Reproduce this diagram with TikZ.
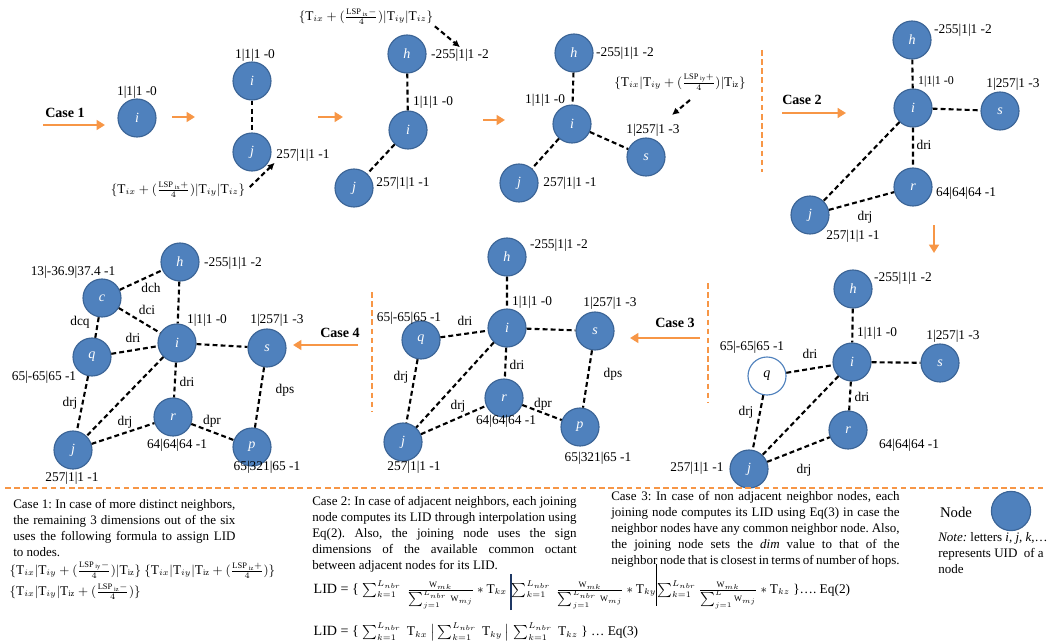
\documentclass[tikz,border=0pt]{standalone}
\usepackage{fontspec}
\setmainfont{Liberation Serif}
\usepackage{tikz}
\usetikzlibrary{arrows.meta,positioning}
\DeclareMathSizes{9.5}{9.5}{6}{4.5}
\frenchspacing

\definecolor{nodeblue}{HTML}{4F81BD}
\definecolor{nodeline}{HTML}{3B6496}
\definecolor{caseorange}{HTML}{F79646}
\definecolor{barblue}{HTML}{1F3864}

\begin{document}
\begin{tikzpicture}[x=0.025cm, y=-0.025cm, >=Latex,
  nd/.style={circle,fill=nodeblue,draw=nodeline,line width=0.8pt,minimum size=0.95cm,inner sep=0pt,text=white,font=\fontsize{10}{12}\selectfont\itshape},
  ndnew/.style={nd,fill=white,draw=nodeblue,text=black},
  lbl/.style={font=\fontsize{9.5}{11}\selectfont,inner sep=1pt},
  elbl/.style={lbl},
  casetxt/.style={font=\fontsize{10}{12}\selectfont\bfseries,inner sep=1pt},
  formula/.style={font=\fontsize{9.5}{11}\selectfont,inner sep=1pt},
  lnk/.style={line width=1.5pt,dash pattern=on 3.5pt off 2.2pt},
  hint/.style={lnk,-{Latex[length=5pt,width=5pt]}},
  nextarrow/.style={caseorange,line width=1.8pt,-{Triangle[length=6pt,width=7pt]}},
  divider/.style={caseorange,line width=1.4pt,dash pattern=on 4pt off 2.5pt},
  para/.style={font=\fontsize{9.25}{11.3}\selectfont,anchor=north west,inner sep=0pt,align=justify}]
\useasboundingbox (0,0) rectangle (1049,643);

% case 1, step by step
\node[casetxt] (case1) at (65,113) {Case 1};
\coordinate (c1a) at (43,125);
\coordinate (c1b) at (105,125);
\draw[nextarrow] (c1a) -- (c1b);

\node[nd] (i1) at (137,118) {i};
\node[lbl] (li1) at (137,92) {1|1|1 -0};
\coordinate (n1a) at (172,117);
\coordinate (n1b) at (195,117);
\draw[nextarrow] (n1a) -- (n1b);

\node[nd] (i2) at (252,81) {i};
\node[nd] (j2) at (252,152) {j};
\node[lbl] (li2) at (255,55) {1|1|1 -0};
\node[lbl] (lj2) at (303,155) {257|1|1 -1};
\draw[lnk] (i2) -- (j2);
\node[formula] (f1) at (178,190) {$\{\mathrm{T}_{ix}+(\frac{\mathrm{LSP}_{\,\mathrm{ix}}{+}}{4})|\mathrm{T}_{iy}|\mathrm{T}_{iz}\}$};
\draw[hint,shorten <=3pt] (f1.east) -- (lj2.south west);
\coordinate (n2a) at (318,117);
\coordinate (n2b) at (343,117);
\draw[nextarrow] (n2a) -- (n2b);

\node[nd] (h3) at (407,54) {h};
\node[nd] (i3) at (408,130) {i};
\node[nd] (j3) at (354,188) {j};
\node[lbl] (lh3) at (460,55) {-255|1|1 -2};
\node[lbl] (li3) at (433,102) {1|1|1 -0};
\node[lbl] (lj3) at (403,183) {257|1|1 -1};
\draw[lnk] (h3) -- (i3) (i3) -- (j3);
\node[formula] (f2) at (366,17) {$\{\mathrm{T}_{ix}+(\frac{\mathrm{LSP}_{\,\mathrm{ix}}{-}}{4})|\mathrm{T}_{iy}|\mathrm{T}_{iz}\}$};
\draw[hint] (f2.south east) -- (lh3.north);
\coordinate (n3a) at (483,120);
\coordinate (n3b) at (505,120);
\draw[nextarrow] (n3a) -- (n3b);

\node[nd] (h4) at (574,53) {h};
\node[nd] (i4) at (572,124) {i};
\node[nd] (s4) at (646,157) {s};
\node[nd] (j4) at (519,183) {j};
\node[lbl] (lh4) at (625,53) {-255|1|1 -2};
\node[lbl] (li4) at (545,100) {1|1|1 -0};
\node[lbl] (ls4) at (653,130) {1|257|1 -3};
\node[lbl] (lj4) at (570,183) {257|1|1 -1};
\draw[lnk] (h4) -- (i4) (i4) -- (s4) (i4) -- (j4);
\node[formula] (f3) at (680,82) {$\{\mathrm{T}_{ix}|\mathrm{T}_{iy}+(\frac{\mathrm{LSP}_{\,\mathrm{iy}}{+}}{4})|\mathrm{T}_{\mathrm{iz}}\}$};
\coordinate (f3a) at (690,100);
\coordinate (f3b) at (672,115);
\draw[hint] (f3a) -- (f3b);

% case 2
\coordinate (v1a) at (762,50);
\coordinate (v1b) at (762,172);
\draw[divider] (v1a) -- (v1b);
\node[casetxt] (case2) at (802,100) {Case 2};
\coordinate (c2a) at (782,113);
\coordinate (c2b) at (846,113);
\draw[nextarrow] (c2a) -- (c2b);

\node[nd] (h5) at (912,40) {h};
\node[nd] (i5) at (913,108) {i};
\node[nd] (s5) at (1000,111) {s};
\node[nd] (r5) at (913,187) {r};
\node[nd] (j5) at (810,215) {j};
\node[lbl] (lh5) at (963,30) {-255|1|1 -2};
\node[lbl,font=\fontsize{8.5}{10}\selectfont] (li5) at (936,82) {1|1|1 -0};
\node[lbl] (ls5) at (1013,84) {1|257|1 -3};
\node[lbl] (lr5) at (966,193) {64|64|64 -1};
\node[lbl] (lj5) at (853,236) {257|1|1 -1};
\draw[lnk] (h5) -- (i5) (i5) -- (s5) (i5) -- (r5) (i5) -- (j5) (j5) -- (r5);
\node[elbl] (dri5) at (924,145) {dri};
\node[elbl] (drj5) at (865,217) {drj};
\coordinate (c2c) at (934,225);
\coordinate (c2d) at (934,253);
\draw[nextarrow] (c2c) -- (c2d);

% case 3
\node[nd] (h6) at (853,289) {h};
\node[nd] (i6) at (852,362) {i};
\node[nd] (s6) at (940,363) {s};
\node[ndnew] (q6) at (767,376) {q};
\node[nd] (r6) at (848,430) {r};
\node[nd] (j6) at (749,469) {j};
\node[lbl] (lh6) at (903,278) {-255|1|1 -2};
\node[lbl] (li6) at (877,333) {1|1|1 -0};
\node[lbl] (ls6) at (953,336) {1|257|1 -3};
\node[lbl] (lq6) at (752,347) {65|-65|65 -1};
\node[lbl] (lr6) at (909,445) {64|64|64 -1};
\node[lbl] (lj6) at (697,468) {257|1|1 -1};
\draw[lnk] (h6) -- (i6) (i6) -- (s6) (q6) -- (i6) (i6) -- (r6) (i6) -- (j6) (q6) -- (j6) (j6) -- (r6);
\node[elbl] (dri6a) at (810,354) {dri};
\node[elbl] (dri6b) at (862,397) {dri};
\node[elbl] (drj6a) at (746,412) {drj};
\node[elbl] (drj6b) at (804,470) {drj};
\coordinate (v2a) at (708,283);
\coordinate (v2b) at (708,403);
\draw[divider] (v2a) -- (v2b);
\node[casetxt] (case3) at (675,323) {Case 3};
\coordinate (c3a) at (700,338);
\coordinate (c3b) at (630,338);
\draw[nextarrow] (c3a) -- (c3b);

\node[nd] (h7) at (507,257) {h};
\node[nd] (i7) at (507,328) {i};
\node[nd] (s7) at (595,331) {s};
\node[nd] (q7) at (421,340) {q};
\node[nd] (r7) at (504,398) {r};
\node[nd] (p7) at (580,427) {p};
\node[nd] (j7) at (403,442) {j};
\node[lbl] (lh7) at (559,245) {-255|1|1 -2};
\node[lbl] (li7) at (532,302) {1|1|1 -0};
\node[lbl] (ls7) at (610,303) {1|257|1 -3};
\node[lbl] (lq7) at (409,318) {65|-65|65 -1};
\node[lbl] (lr7) at (506,421) {64|64|64 -1};
\node[lbl] (lp7) at (598,458) {65|321|65 -1};
\node[lbl] (lj7) at (414,467) {257|1|1 -1};
\draw[lnk] (h7) -- (i7) (i7) -- (s7) (q7) -- (i7) (i7) -- (r7) (i7) -- (j7) (q7) -- (j7) (j7) -- (r7) (r7) -- (p7) (s7) -- (p7);
\node[elbl] (dri7a) at (465,321) {dri};
\node[elbl] (dri7b) at (517,365) {dri};
\node[elbl] (dps7) at (613,374) {dps};
\node[elbl] (drj7a) at (401,377) {drj};
\node[elbl] (drj7b) at (458,406) {drj};
\node[elbl] (dpr7) at (543,404) {dpr};
\coordinate (v3a) at (372,292);
\coordinate (v3b) at (372,412);
\draw[divider] (v3a) -- (v3b);

% case 4
\node[casetxt] (case4) at (340,333) {Case 4};
\coordinate (c4a) at (358,345);
\coordinate (c4b) at (293,345);
\draw[nextarrow] (c4a) -- (c4b);

\node[nd] (h8) at (180,262) {h};
\node[nd] (c8) at (102,298) {c};
\node[nd] (i8) at (177,343) {i};
\node[nd] (s8) at (267,348) {s};
\node[nd] (q8) at (92,357) {q};
\node[nd] (r8) at (173,417) {r};
\node[nd] (p8) at (252,447) {p};
\node[nd] (j8) at (73,450) {j};
\node[lbl] (lh8) at (233,263) {-255|1|1 -2};
\node[lbl] (lc8) at (73,272) {13|-36.9|37.4 -1};
\node[lbl] (li8) at (207,320) {1|1|1 -0};
\node[lbl] (ls8) at (277,320) {1|257|1 -3};
\node[lbl] (lq8) at (44,377) {65|-65|65 -1};
\node[lbl] (lr8) at (177,445) {64|64|64 -1};
\node[lbl] (lp8) at (267,467) {65|321|65 -1};
\node[lbl] (lj8) at (72,478) {257|1|1 -1};
\draw[lnk] (c8) -- (h8) (c8) -- (i8) (c8) -- (q8) (h8) -- (i8) (q8) -- (i8) (i8) -- (s8)
  (i8) -- (r8) (i8) -- (j8) (q8) -- (j8) (j8) -- (r8) (r8) -- (p8) (s8) -- (p8);
\node[elbl] (dch8) at (151,288) {dch};
\node[elbl] (dci8) at (147,310) {dci};
\node[elbl] (dcq8) at (80,322) {dcq};
\node[elbl] (dri8a) at (133,338) {dri};
\node[elbl] (dri8b) at (187,382) {dri};
\node[elbl] (dps8) at (285,390) {dps};
\node[elbl] (drj8a) at (70,403) {drj};
\node[elbl] (drj8b) at (125,422) {drj};
\node[elbl] (dpr8) at (212,421) {dpr};

% notes below
\coordinate (h1a) at (5,488);
\coordinate (h1b) at (1045,488);
\draw[divider] (h1a) -- (h1b);

\node[para,text width=158pt] (note1) at (13,499) {Case 1: In case of more distinct neighbors,\linebreak the remaining 3 dimensions out of the six\linebreak uses the following formula to assign LID\linebreak to nodes.};
\node[formula,anchor=west] (eq1a) at (8,570) {$\{\mathrm{T}_{ix}|\mathrm{T}_{iy}+(\frac{\mathrm{LSP}_{\,\mathrm{iy}}{-}}{4})|\mathrm{T}_{\mathrm{iz}}\}$ $\{\mathrm{T}_{ix}|\mathrm{T}_{iy}|\mathrm{T}_{\mathrm{iz}}+(\frac{\mathrm{LSP}_{\,\mathrm{iz}}{+}}{4})\}$};
\node[formula,anchor=west] (eq1b) at (8,592) {$\{\mathrm{T}_{ix}|\mathrm{T}_{iy}|\mathrm{T}_{\mathrm{iz}}+(\frac{\mathrm{LSP}_{\,\mathrm{iz}}{-}}{4})\}$};

\node[para,text width=188pt] (note2) at (312,496) {Case 2: In case of adjacent neighbors, each joining\linebreak node computes its LID through interpolation using\linebreak Eq(2). Also, the joining node uses the sign\linebreak dimensions of the available common octant\linebreak between adjacent nodes for its LID.};
\node[para,text width=205pt] (note3) at (611,491) {\parfillskip=0pt Case 3: In case of non adjacent neighbor nodes, each\linebreak joining node computes its LID using Eq(3) in case the\linebreak neighbor nodes have any common neighbor node. Also,\linebreak the joining node sets the \emph{dim} value to that of the\linebreak neighbor node that is closest in terms of number of hops.};

\node[formula,anchor=west] (eq2) at (312,587) {\fontsize{10}{12}\selectfont LID = \{ \fontsize{9.5}{11}\selectfont$\sum_{k=1}^{L_{nbr}}\ \frac{\mathrm{W}_{mk}}{\sum_{j=1}^{L_{nbr}}\,\mathrm{W}_{mj}}*\mathrm{T}_{kx}$\ {\color{barblue}\vrule width 1pt height 14pt depth 12pt}$\sum_{k=1}^{L_{nbr}}\ \frac{\mathrm{W}_{mk}}{\sum_{j=1}^{L_{nbr}}\,\mathrm{W}_{mj}}*\mathrm{T}_{ky}$\vrule width 0.8pt height 21pt depth 9pt$\sum_{k=1}^{L_{nbr}}\frac{\mathrm{W}_{mk}}{\sum_{j=1}^{L}\mathrm{W}_{mj}}*\mathrm{T}_{kz}$ \}\dots.\ Eq(2)};
\node[formula,anchor=west] (eq3) at (312,632) {\fontsize{10}{12}\selectfont LID = \{ \fontsize{9.5}{11}\selectfont$\sum_{k=1}^{L_{nbr}}\ \mathrm{T}_{kx}\ \big|\sum_{k=1}^{L_{nbr}}\ \mathrm{T}_{ky}\,\big|\,\sum_{k=1}^{L_{nbr}}\ \mathrm{T}_{kz}$ \} \dots\ Eq(3)};

% legend
\node[font=\fontsize{10.5}{12}\selectfont,inner sep=1pt] (legtxt) at (956,512) {Node};
\node[nd,minimum size=0.98cm] (legnode) at (1011,511) {};
\node[para,align=left] (legnote) at (938,532) {\textit{Note:} letters \textit{i, j, k},\dots\\represents UID\ \ of a\\node};
\end{tikzpicture}
\end{document}
